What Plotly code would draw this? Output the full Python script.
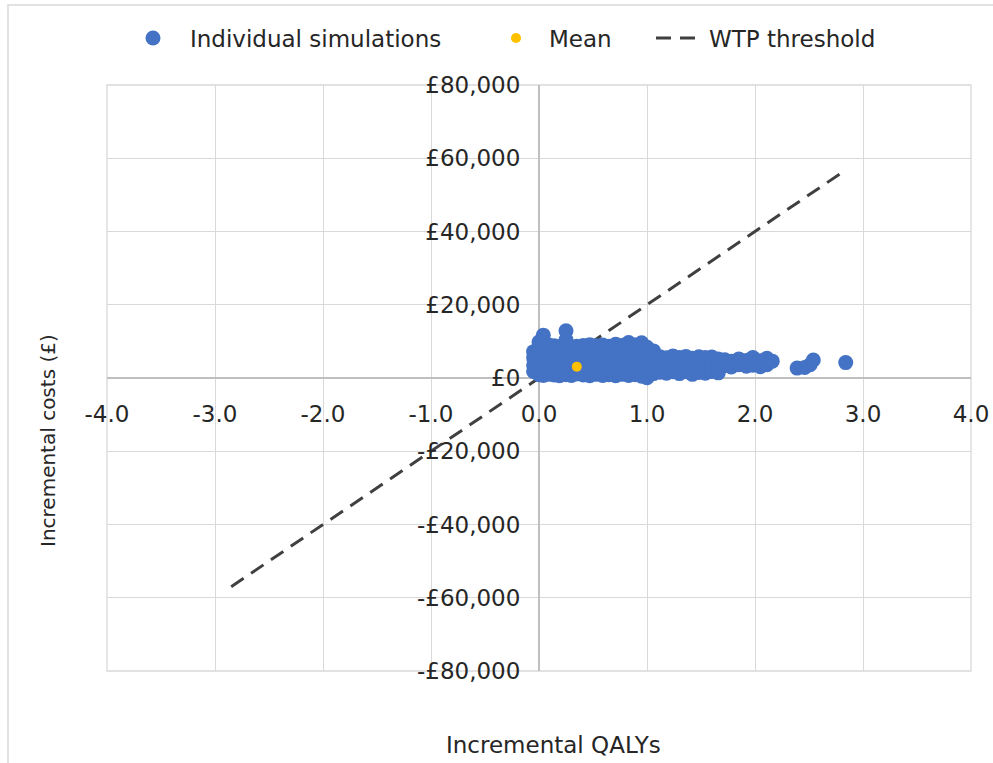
import plotly.graph_objects as go

# ---- data -------------------------------------------------------------
# Probabilistic simulations: incremental QALYs (x) and incremental costs (y),
# grouped by QALY value.
qaly_columns = [-0.05, 0.00, 0.04, 0.09, 0.14, 0.19, 0.25, 0.30, 0.35, 0.41,
                0.47, 0.53, 0.59, 0.65, 0.71, 0.77, 0.83, 0.89, 0.95, 1.00,
                1.06, 1.12, 1.18, 1.24, 1.30, 1.36, 1.42, 1.48, 1.54, 1.60,
                1.66, 1.72, 1.78, 1.85, 1.92, 1.98, 2.05, 2.11, 2.16, 2.39,
                2.46, 2.51, 2.54, 2.84]
cost_columns = [
    [1800, 3500, 5500, 7200],
    [900, 3000, 5200, 8000, 9800],
    [700, 2600, 4800, 7000, 9400, 11700],
    [1000, 3200, 5600, 7800, 9000],
    [800, 2800, 5000, 7300, 8800],
    [600, 3300, 5400, 7600, 8600],
    [900, 2900, 5100, 7900, 10400, 12900],
    [700, 2500, 4700, 6900, 8400],
    [1100, 3400, 5800, 7700, 8700],
    [800, 2700, 4900, 7100, 8900],
    [600, 3100, 5300, 7500, 9100],
    [1000, 2900, 5000, 7200, 8800],
    [700, 3300, 5600, 7800, 9000],
    [900, 2600, 4800, 7000, 8700],
    [600, 3000, 5200, 7400, 9200],
    [1000, 2800, 5000, 7300, 8900],
    [700, 3200, 5500, 7700, 9700],
    [900, 2700, 4900, 7100, 9000],
    [500, 3000, 5300, 7500, 9600],
    [100, 2400, 4600, 6800, 8400],
    [1200, 3400, 5700, 7400],
    [1600, 3600, 5800],
    [1300, 3200, 5500],
    [1700, 3500, 6000],
    [1200, 3300, 5600],
    [1800, 3700, 5900],
    [1000, 3100, 5400],
    [1500, 3500, 5800],
    [1300, 3200, 5600],
    [1800, 3700, 5700],
    [1400, 3300, 5200],
    [3400, 5000],
    [3000, 4600],
    [3600, 5200],
    [3200, 4800],
    [3500, 5600],
    [3100, 4700],
    [3600, 5400],
    [4600],
    [2700],
    [2900],
    [3600],
    [4900],
    [4200],
]
sim_qalys = [q for q, costs in zip(qaly_columns, cost_columns) for _ in costs]
sim_costs = [c for costs in cost_columns for c in costs]

mean_qaly = [0.35]
mean_cost = [3100]

# Willingness-to-pay threshold line (GBP 20,000 per QALY)
wtp_qalys = [-2.85, 2.85]
wtp_costs = [-57000, 57000]

x_ticks = [-4, -3, -2, -1, 0, 1, 2, 3, 4]
x_tick_labels = ["-4.0", "-3.0", "-2.0", "-1.0", "0.0", "1.0", "2.0", "3.0", "4.0"]
y_ticks = [-80000, -60000, -40000, -20000, 0, 20000, 40000, 60000, 80000]
y_tick_labels = ["-£80,000", "-£60,000", "-£40,000", "-£20,000", "£0",
                 "£20,000", "£40,000", "£60,000", "£80,000"]

# ---- styling ----------------------------------------------------------
FONT = "DejaVu Sans"
TEXT = "#262626"
GRID = "#d9d9d9"
ZERO = "#bfbfbf"
W, H = 993, 763
L, R, T, B = 107, 22, 85, 92


def px_x(p):
    return (p - L) / (W - L - R)


def px_y(q):
    return (H - B - q) / (H - T - B)


fig = go.Figure()
fig.add_trace(go.Scatter(
    x=wtp_qalys, y=wtp_costs, mode="lines", name="WTP threshold",
    line=dict(color="#404040", width=3, dash="15px,9px"),
    legend="legend3", hoverinfo="skip"))
fig.add_trace(go.Scatter(
    x=sim_qalys, y=sim_costs, mode="markers", name="Individual simulations",
    marker=dict(color="#4472C4", size=15), legend="legend"))
fig.add_trace(go.Scatter(
    x=mean_qaly, y=mean_cost, mode="markers", name="Mean",
    marker=dict(color="#FFC000", size=10), legend="legend2"))

legend_common = dict(
    y=px_y(38), yanchor="middle", xanchor="left", orientation="h",
    font=dict(family=FONT, size=23, color=TEXT),
    bgcolor="rgba(0,0,0,0)", borderwidth=0,
)

axis_common = dict(
    showgrid=True, gridcolor=GRID, gridwidth=1.3,
    zeroline=True, zerolinecolor=ZERO, zerolinewidth=1.5,
    showline=False, anchor="free", position=0.5, automargin=False,
    ticks="outside", tickcolor="rgba(0,0,0,0)",
    tickfont=dict(family=FONT, size=23, color=TEXT),
)

fig.update_layout(
    width=W, height=H,
    margin=dict(l=L, r=R, t=T, b=B, pad=0, autoexpand=False),
    paper_bgcolor="white", plot_bgcolor="white",
    font=dict(family=FONT, size=23, color=TEXT),
    showlegend=True,
    legend=dict(x=px_x(116), itemwidth=64, **legend_common),
    legend2=dict(x=px_x(483), itemwidth=56, **legend_common),
    legend3=dict(x=px_x(651), itemwidth=48, **legend_common),
    xaxis=dict(range=[-4, 4], tickvals=x_ticks, ticktext=x_tick_labels,
               ticklen=15, **axis_common),
    yaxis=dict(range=[-80000, 80000], tickvals=y_ticks, ticktext=y_tick_labels,
               ticklen=14, **axis_common),
    shapes=[
        dict(type="rect", xref="paper", yref="paper", x0=0, x1=1, y0=0, y1=1,
             line=dict(color=GRID, width=1.3), layer="below"),
        dict(type="rect", xref="paper", yref="paper",
             x0=px_x(8), x1=px_x(1100), y0=px_y(900), y1=px_y(5),
             line=dict(color=GRID, width=1.5), layer="below"),
    ],
    annotations=[
        dict(text="Incremental costs (£)", xref="paper", yref="paper",
             x=px_x(48), y=px_y(441), xanchor="center", yanchor="middle",
             textangle=-90, showarrow=False,
             font=dict(family=FONT, size=20, color=TEXT)),
        dict(text="Incremental QALYs", xref="paper", yref="paper",
             x=px_x(553), y=px_y(745), xanchor="center", yanchor="middle",
             showarrow=False, font=dict(family=FONT, size=23, color=TEXT)),
    ],
)

fig.write_html("out.html")
